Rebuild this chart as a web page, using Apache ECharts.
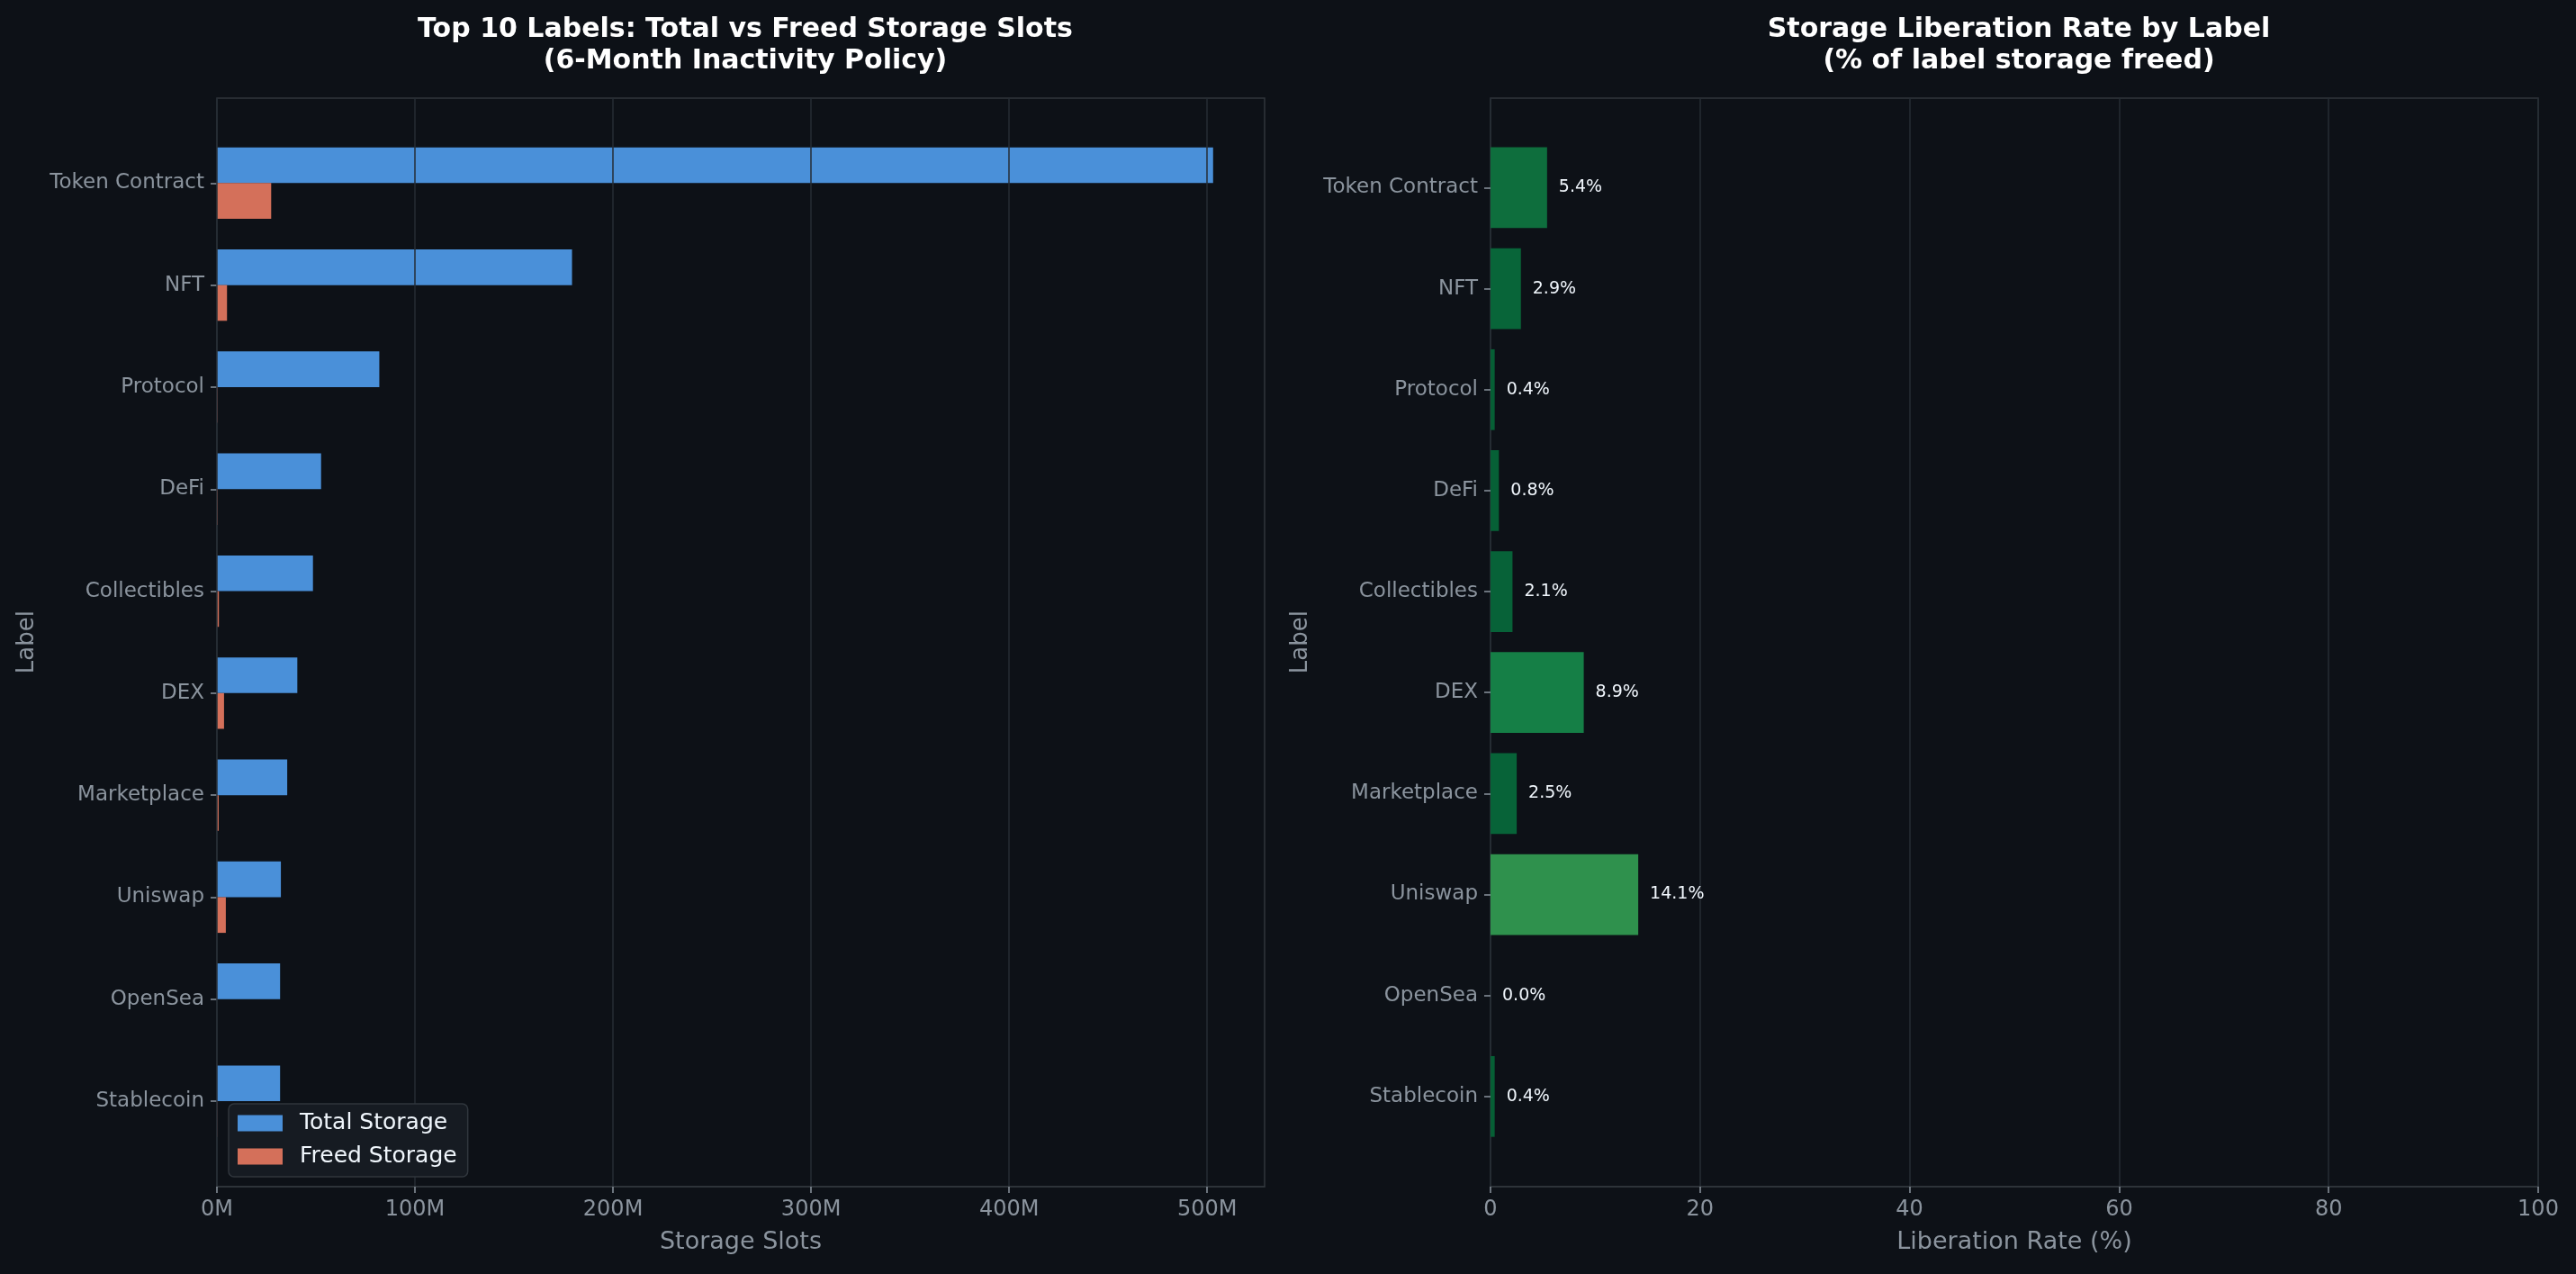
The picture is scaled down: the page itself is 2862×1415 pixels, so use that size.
<!DOCTYPE html>
<html>
<head>
<meta charset="utf-8">
<script src="https://cdn.jsdelivr.net/npm/echarts@6/dist/echarts.min.js"></script>
<style>
  html, body { margin: 0; padding: 0; background: #0d1117; }
  #chart { width: 2862px; height: 1415px; }
</style>
</head>
<body>
<div id="chart"></div>
<script>
// ---- Data ----
const categories = ['Token Contract', 'NFT', 'Protocol', 'DeFi', 'Collectibles', 'DEX', 'Marketplace', 'Uniswap', 'OpenSea', 'Stablecoin'];
const totalStorage = [503.0e6, 179.3e6, 82.0e6, 52.6e6, 48.5e6, 40.6e6, 35.5e6, 32.3e6, 31.9e6, 31.9e6];
const freedStorage = [27.4e6, 5.1e6, 0.33e6, 0.42e6, 1.0e6, 3.6e6, 0.89e6, 4.5e6, 0.0, 0.13e6];
const liberationRate = [5.4, 2.9, 0.4, 0.8, 2.1, 8.9, 2.5, 14.1, 0.0, 0.4];
const storageTicks = [0, 100e6, 200e6, 300e6, 400e6, 500e6];
const rateTicks = [0, 20, 40, 60, 80, 100];

// ---- Styles ----
const BG = '#0d1117', FRAME = '#30363d', GRID = '#262c35', MUTED = '#8b949e';
const FONT = 'DejaVu Sans';
const greenStops = [[0, [6, 94, 53]], [2.5, [7, 99, 56]], [5.4, [14, 110, 61]], [8.9, [21, 127, 70]], [14.1, [47, 145, 77]]];
function greenFor(v) {
  let i = 0;
  while (i < greenStops.length - 2 && v > greenStops[i + 1][0]) i++;
  const [a, ca] = greenStops[i], [b, cb] = greenStops[i + 1];
  const t = Math.max(0, Math.min(1, (v - a) / (b - a)));
  const c = ca.map((x, k) => Math.round(x + (cb[k] - x) * t));
  return 'rgb(' + c.join(',') + ')';
}

const chart = echarts.init(document.getElementById('chart'), null, { renderer: 'canvas' });

const frameL = { left: 241, top: 109, width: 1164, height: 1209 };
const frameR = { left: 1656, top: 109, width: 1164, height: 1209 };

const titleStyle = { color: '#ffffff', fontSize: 30, fontWeight: 'bold', lineHeight: 35, fontFamily: FONT };

const option = {
  backgroundColor: BG,
  animation: false,
  textStyle: { fontFamily: FONT },
  title: [
    { text: 'Top 10 Labels: Total vs Freed Storage Slots\n(6-Month Inactivity Policy)',
      left: 823, top: 11, textAlign: 'center', textStyle: titleStyle },
    { text: 'Storage Liberation Rate by Label\n(% of label storage freed)',
      left: 2238, top: 11, textAlign: 'center', textStyle: titleStyle }
  ],
  legend: {
    data: ['Total Storage', 'Freed Storage'],
    orient: 'vertical', left: 254, top: 1226,
    itemWidth: 50, itemHeight: 18, itemGap: 12,
    icon: 'rect',
    padding: [9, 12, 10, 10],
    backgroundColor: '#161b22', borderColor: FRAME, borderWidth: 1.5, borderRadius: 6,
    textStyle: { color: '#f0f6fc', fontSize: 25, fontFamily: FONT, padding: [0, 0, 0, 14] }
  },
  grid: [
    Object.assign({ show: true, borderColor: FRAME, borderWidth: 1.5, backgroundColor: 'transparent' }, frameL),
    { left: 241, top: 146.7, width: 1164, height: 1133 },
    Object.assign({ show: true, borderColor: FRAME, borderWidth: 1.5, backgroundColor: 'transparent' }, frameR),
    { left: 1656, top: 152.4, width: 1164, height: 1121.5 }
  ],
  xAxis: [
    { type: 'value', gridIndex: 0, min: 0, max: 529e6, z: 3,
      name: 'Storage Slots', nameLocation: 'middle', nameGap: 48,
      nameTextStyle: { color: MUTED, fontSize: 27, fontFamily: FONT },
      axisLine: { show: true, lineStyle: { color: FRAME, width: 1.5 } },
      axisTick: { show: true, length: 7, lineStyle: { color: MUTED, width: 1.5 }, customValues: storageTicks },
      axisLabel: { color: MUTED, fontSize: 24, margin: 14, customValues: storageTicks,
        formatter: v => Math.round(v / 1e6) + 'M' },
      splitLine: { show: true, lineStyle: { color: GRID, width: 1.5 } },
      interval: 100e6 },
    { type: 'value', gridIndex: 1, min: 0, max: 529e6, show: false },
    { type: 'value', gridIndex: 2, min: 0, max: 100, interval: 20,
      name: 'Liberation Rate (%)', nameLocation: 'middle', nameGap: 48,
      nameTextStyle: { color: MUTED, fontSize: 27, fontFamily: FONT },
      axisLine: { show: true, lineStyle: { color: FRAME, width: 1.5 } },
      axisTick: { show: true, length: 7, lineStyle: { color: MUTED, width: 1.5 }, customValues: rateTicks },
      axisLabel: { color: MUTED, fontSize: 24, margin: 14, customValues: rateTicks },
      splitLine: { show: true, lineStyle: { color: GRID, width: 1.5 } } },
    { type: 'value', gridIndex: 3, min: 0, max: 100, show: false }
  ],
  yAxis: [
    { type: 'value', gridIndex: 0, show: false },
    { type: 'category', gridIndex: 1, data: categories, inverse: true,
      name: 'Label', nameLocation: 'middle', nameGap: 198,
      nameTextStyle: { color: MUTED, fontSize: 26, fontFamily: FONT },
      axisLine: { show: false },
      axisTick: { show: true, alignWithLabel: true, length: 7, lineStyle: { color: MUTED, width: 1.5 } },
      axisLabel: { color: MUTED, fontSize: 23, margin: 14, padding: [9, 0, 0, 0] },
      splitLine: { show: false } },
    { type: 'value', gridIndex: 2, show: false },
    { type: 'category', gridIndex: 3, data: categories, inverse: true,
      name: 'Label', nameLocation: 'middle', nameGap: 198,
      nameTextStyle: { color: MUTED, fontSize: 26, fontFamily: FONT },
      axisLine: { show: false },
      axisTick: { show: true, alignWithLabel: true, length: 7, lineStyle: { color: MUTED, width: 1.5 } },
      axisLabel: { color: MUTED, fontSize: 23, margin: 14, padding: [7, 0, 0, 0] },
      splitLine: { show: false } }
  ],
  series: [
    { name: 'Total Storage', type: 'bar', xAxisIndex: 1, yAxisIndex: 1,
      data: totalStorage, barWidth: '35%', barGap: '0%',
      itemStyle: { color: '#4a90d9' } },
    { name: 'Freed Storage', type: 'bar', xAxisIndex: 1, yAxisIndex: 1,
      data: freedStorage, barWidth: '35%', barGap: '0%',
      itemStyle: { color: '#d4705a' } },
    { name: 'Liberation Rate', type: 'bar', xAxisIndex: 3, yAxisIndex: 3,
      data: liberationRate.map(v => ({ value: v, itemStyle: { color: greenFor(v) } })),
      barWidth: '80%',
      label: { show: true, position: 'right', distance: 13, color: '#f0f6fc', fontSize: 19, fontFamily: FONT,
        formatter: p => p.value.toFixed(1) + '%' } }
  ]
};
chart.setOption(option);
</script>
</body>
</html>
